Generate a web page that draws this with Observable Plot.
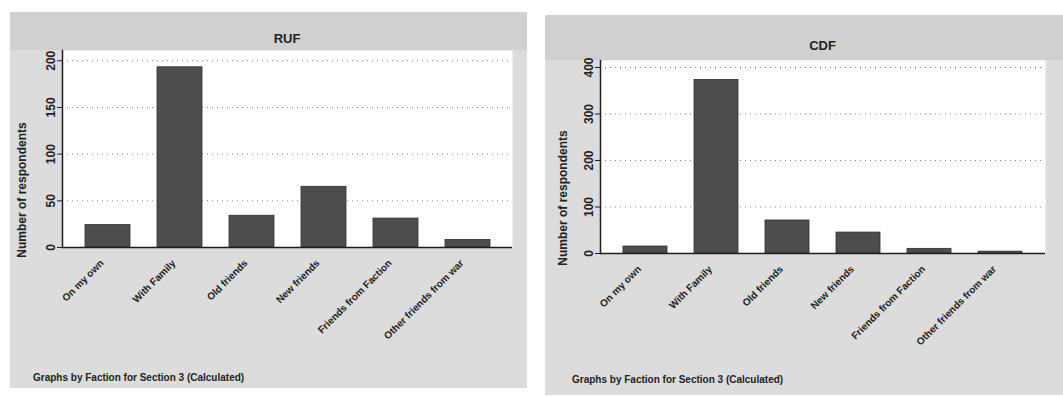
<!DOCTYPE html>
<html>
<head>
<meta charset="utf-8">
<script src="https://cdn.jsdelivr.net/npm/d3@7"></script>
<script src="https://cdn.jsdelivr.net/npm/@observablehq/plot@0.6"></script>
<style>
  html, body { margin: 0; padding: 0; background: #ffffff; }
  body { width: 1063px; height: 396px; position: relative; overflow: hidden; font-family: "Liberation Sans", Arial, sans-serif; }
  .panel { position: absolute; background: #dcdcdc; }
  .header { position: absolute; left: 0; top: 0; background: #d0d0d0; }
  .title { position: absolute; font-size: 13px; font-weight: bold; color: #222; transform: translate(-50%, -50%); white-space: nowrap; }
  .ylab { position: absolute; font-size: 12px; font-weight: bold; color: #222; white-space: nowrap; transform: translate(-50%, -50%) rotate(-90deg); }
  .caption { position: absolute; font-size: 10px; font-weight: bold; color: #222; white-space: nowrap; }
  .panel svg { position: absolute; left: 0; top: 0; }
</style>
</head>
<body>
<div id="left" class="panel" style="left:10px; top:12px; width:517px; height:376px;"></div>
<div id="right" class="panel" style="left:545px; top:15px; width:518px; height:380px;"></div>
<script>
const categories = ["On my own", "With Family", "Old friends", "New friends", "Friends from Faction", "Other friends from war"];
const rufValues = [24, 193, 34, 65, 31, 8];
const cdfValues = [15, 373, 71, 45, 10, 4];
const rufTicks = [0, 50, 100, 150, 200];
const cdfTicks = [0, 100, 200, 300, 400];
const panelTitles = ["RUF", "CDF"];
const yTitle = "Number of respondents";
const captionText = "Graphs by Faction for Section 3 (Calculated)";

function drawPanel(el, cfg) {
  const data = categories.map((c, i) => ({cat: c, value: cfg.values[i]}));
  const header = document.createElement("div");
  header.className = "header";
  header.style.width = cfg.width + "px";
  header.style.height = cfg.marginTop + "px";
  el.appendChild(header);

  const chart = Plot.plot({
    width: cfg.width,
    height: cfg.height,
    marginLeft: cfg.marginLeft,
    marginRight: cfg.marginRight,
    marginTop: cfg.marginTop,
    marginBottom: cfg.marginBottom,
    style: {background: "transparent", fontFamily: "'Liberation Sans', Arial, sans-serif", fontSize: "10px", fontWeight: "bold", color: "#222", overflow: "visible"},
    x: {domain: categories, paddingInner: 0.375, paddingOuter: 0.29, label: null},
    y: {domain: [0, cfg.yMax], label: null},
    marks: [
      Plot.frame({fill: "white", stroke: null}),
      Plot.gridY(cfg.ticks.filter(t => t > 0), {stroke: "#8a8a8a", strokeOpacity: 1, strokeDasharray: "1,4"}),
      Plot.barY(data, {x: "cat", y: "value", fill: "#4d4d4d", stroke: "#2e2e2e", strokeWidth: 0.8}),
      Plot.ruleY([0], {stroke: "#1e1e1e", strokeWidth: 1.5}),
      Plot.frame({anchor: "left", stroke: "#1e1e1e", strokeWidth: 1.5}),
      Plot.axisY({ticks: cfg.ticks, tickRotate: -90, tickSize: 5, tickPadding: 3, label: null, stroke: "#1e1e1e", fontSize: 12}),
      Plot.axisX({tickRotate: -45, tickSize: 0, tickPadding: 14, dx: -6, label: null, fontSize: 10})
    ]
  });
  el.appendChild(chart);

  const t = document.createElement("div");
  t.className = "title";
  t.textContent = cfg.title;
  t.style.left = (cfg.marginLeft + (cfg.width - cfg.marginLeft - cfg.marginRight) / 2) + "px";
  t.style.top = cfg.titleY + "px";
  el.appendChild(t);

  const yl = document.createElement("div");
  yl.className = "ylab";
  yl.textContent = yTitle;
  yl.style.left = cfg.yLabX + "px";
  yl.style.top = cfg.yLabY + "px";
  el.appendChild(yl);

  const cap = document.createElement("div");
  cap.className = "caption";
  cap.textContent = captionText;
  cap.style.left = cfg.capX + "px";
  cap.style.top = cfg.capY + "px";
  el.appendChild(cap);
}

drawPanel(document.getElementById("left"), {
  title: panelTitles[0], values: rufValues, ticks: rufTicks, yMax: 211,
  width: 517, height: 376, marginLeft: 52, marginRight: 15, marginTop: 38, marginBottom: 141,
  titleY: 26, yLabX: 12, yLabY: 178, capX: 23, capY: 360
});
drawPanel(document.getElementById("right"), {
  title: panelTitles[1], values: cdfValues, ticks: cdfTicks, yMax: 415,
  width: 518, height: 380, marginLeft: 55, marginRight: 18, marginTop: 45, marginBottom: 142,
  titleY: 30, yLabX: 18, yLabY: 183, capX: 27, capY: 359
});
</script>
</body>
</html>
